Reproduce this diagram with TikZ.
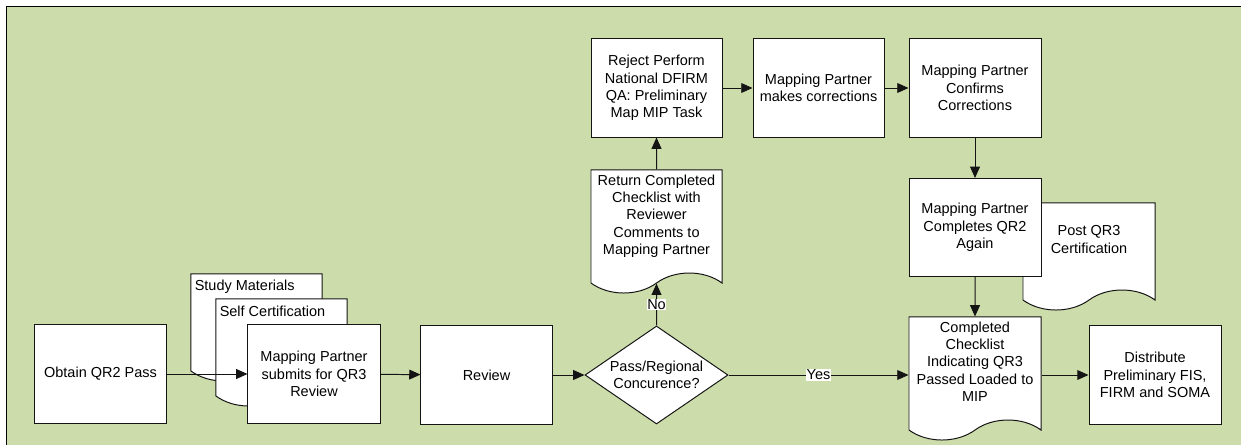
\documentclass[tikz,border=0pt]{standalone}
\usepackage{fontspec}
\setmainfont{Liberation Sans}
\usetikzlibrary{shapes.geometric,shapes.symbols,arrows.meta}
\definecolor{bggreen}{RGB}{204,220,170}
\definecolor{edge}{RGB}{20,20,20}
% extra depth under the last line lifts the text in a document shape
\newcommand{\docpad}{\rule[-10pt]{0pt}{0pt}}

\begin{document}
\begin{tikzpicture}[x=0.025cm,y=-0.025cm,
  every node/.style={font=\fontsize{10.3}{12.3}\selectfont},
  box/.style={rectangle,draw=edge,fill=white,line width=0.7pt,align=center,inner sep=2pt,
    minimum width=3.275cm,minimum height=2.45cm},
  doc/.style={tape,tape bend top=none,tape bend bottom=in and out,tape bend height=0.5cm,
    draw=edge,fill=white,line width=0.7pt,align=center,inner sep=2pt,minimum width=3.275cm},
  decision/.style={diamond,draw=edge,fill=white,line width=0.7pt,align=center,inner sep=-8pt,
    minimum width=3.575cm,minimum height=2.45cm},
  arr/.style={draw=edge,line width=0.7pt,-{Triangle[length=8pt,width=7pt]}},
  lab/.style={fill=white,inner sep=0.5pt}]
\useasboundingbox (0,0) rectangle (1241,445);
\fill[bggreen] (6,6) rectangle (1241,445);
\draw[line width=1.1pt] (6.5,445) -- (6.5,6.5) -- (1241,6.5);

% input documents behind the submit step
\node[doc,minimum height=2.675cm,
  label={[anchor=north west,inner sep=0pt,xshift=0.1cm,yshift=-0.15cm]north west:Study Materials}]
  at (256.5,317.5) (study) {};
\node[doc,minimum height=2.675cm,
  label={[anchor=north west,inner sep=0pt,xshift=0.1cm,yshift=-0.17cm]north west:Self Certification}]
  at (281.5,342.5) (self) {};

\node[box] at (100.5,374) (obtain) {Obtain QR2 Pass};
\node[box,minimum width=3.3cm] at (314,374) (submits) {Mapping Partner\\submits for QR3\\Review};
\node[box] at (486.5,375) (review) {Review};
\node[decision] at (656.5,375) (dec) {Pass/Regional\\Concurence?};

\node[doc,minimum height=3.075cm] at (656.5,221.5) (ret)
  {Return Completed\\Checklist with\\Reviewer\\Comments to\\Mapping Partner\docpad};
\node[box] at (656.5,88) (reject) {Reject Perform\\National DFIRM\\QA: Preliminary\\Map MIP Task};
\node[box] at (818.5,88) (fix) {Mapping Partner\\makes corrections};
\node[box,minimum width=3.3cm] at (975,88) (confirm) {Mapping Partner\\Confirms\\Corrections};

\node[doc,minimum width=3.3cm,minimum height=2.675cm] at (1089,246.5) (post) {Post QR3\\Certification\docpad};
\node[box,minimum width=3.3cm] at (975,227.5) (again) {Mapping Partner\\Completes QR2\\Again};
\node[doc,minimum width=3.3cm,minimum height=3.075cm] at (975,368.5) (check)
  {Completed\\Checklist\\Indicating QR3\\Passed Loaded to\\MIP\docpad};
\node[box,minimum width=3.3cm] at (1155,375) (distribute) {Distribute\\Preliminary FIS,\\FIRM and SOMA};

\draw[arr] (obtain) -- (submits);
\draw[arr] (submits) -- (review);
\draw[arr] (review) -- (dec);
\draw[arr] (dec) -- node[lab] {Yes} (check.west |- dec.east);
\draw[arr] (dec) -- node[lab] {No} (ret);
\draw[arr] (ret) -- (reject);
\draw[arr] (reject) -- (fix);
\draw[arr] (fix) -- (confirm);
\draw[arr] (confirm) -- (again);
\draw[arr] (again) -- (check);
\draw[arr] (check.east |- distribute.west) -- (distribute);
\end{tikzpicture}
\end{document}
